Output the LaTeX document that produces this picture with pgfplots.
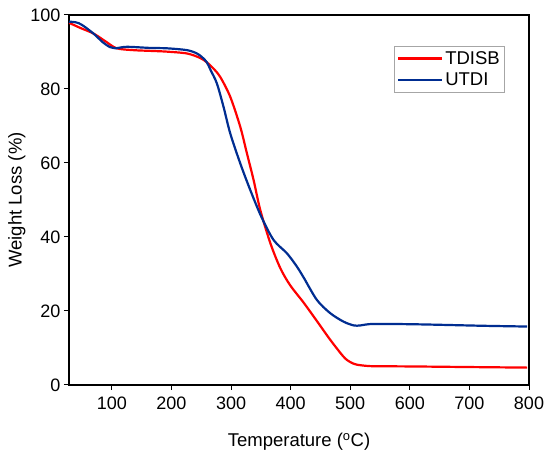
\documentclass[border=0pt]{standalone}
\usepackage{fontspec}
\setmainfont{Liberation Sans}
\usepackage{pgfplots}
\pgfplotsset{compat=1.18}
\definecolor{tred}{RGB}{255,0,0}
\definecolor{tblue}{RGB}{0,45,145}
\begin{document}
\begin{tikzpicture}
\begin{axis}[
  scale only axis,
  width=460pt, height=370pt,
  xmin=28, xmax=800, ymin=0, ymax=100,
  xtick={100,200,...,800}, ytick={0,20,...,100},
  axis line style={line width=1.1pt},
  tick style={line width=1pt, black},
  tick align=outside, major tick length=5pt,
  xtick pos=bottom, ytick pos=left,
  /pgf/number format/assume math mode=true,
  tick label style={font=\fontsize{18}{20}\selectfont},
  xticklabel style={yshift=-3pt},
  label style={font=\fontsize{18.5}{20}\selectfont},
  xlabel={Temperature (\textsuperscript{o}C)},
  ylabel={Weight Loss (\%)},
  xlabel style={yshift=-17pt},
  ylabel style={yshift=-2pt},
  legend style={at={(0.948,0.916)}, anchor=north east, draw=gray!70, line width=0.6pt,
    font=\fontsize{18.5}{20}\selectfont, row sep=3pt, inner sep=3pt},
  legend cell align=left,
  legend image code/.code={\draw[#1, line width=2.2pt] (0pt,0pt) -- (44pt,0pt);},
]
\addplot[tred, line width=2.2pt, smooth] coordinates {
(28,97.9) (47,96.5) (69,95.0) (90,92.8) (108,91.0) (136,90.5) (165,90.3) (192,90.1)
(226,89.6) (248,88.4) (259.4,87.2) (270,85.6) (282,83.2) (298.6,77.9) (315.4,69.8) (326.6,62.6)
(337.8,55.4) (349,47.3) (366,38.3) (382.6,31.6) (399,27.0) (421.6,22.3)
(444,17.3) (466.5,12.2) (489,7.6) (500,6.2) (511,5.5) (534,5.1) (570,5.05) (612,5.0) (700,4.85) (797,4.7)
};
\addlegendentry{TDISB}
\addplot[tblue, line width=2.2pt, smooth] coordinates {
(28,98.2) (40,98.0) (50,97.3) (69,95.0) (85,92.6) (97,91.3) (106,91.0) (125,91.4)
(164,91.1) (192,91.0) (226,90.5) (242.7,89.6) (252,88.5) (259.4,87.2) (266,85.0) (276.2,81.5)
(287.3,75.2) (298.6,68) (315.4,59.9) (332.2,52.7) (350.7,45.5) (371.3,39.2) (393.7,35.6)
(410.5,32.0) (422,29.0) (444,23.0) (466.5,19.4) (489,17.1) (506,16.1) (517,16.1) (539,16.5)
(612,16.4) (724,16.0) (797,15.8)
};
\addlegendentry{UTDI}
\end{axis}
\pgfresetboundingbox
\path ([xshift=-69pt,yshift=-73pt]current axis.south west) rectangle ([xshift=21pt,yshift=15pt]current axis.north east);
\end{tikzpicture}
\end{document}
